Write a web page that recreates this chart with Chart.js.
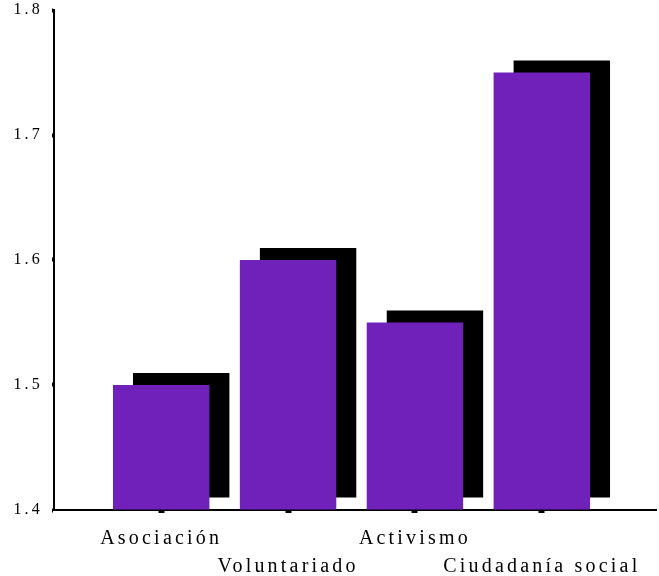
<!DOCTYPE html>
<html>
<head>
<meta charset="utf-8">
<script src="https://cdn.jsdelivr.net/npm/chart.js@4/dist/chart.umd.min.js"></script>
<style>
  html, body { margin: 0; padding: 0; background: #fff; }
  #wrap { width: 659px; height: 576px; position: relative; }
</style>
</head>
<body>
<div id="wrap"><canvas id="c" width="659" height="576"></canvas></div>
<script>
const categories = ['Asociación', 'Voluntariado', 'Activismo', 'Ciudadanía social'];
const values = [1.50, 1.60, 1.55, 1.75];
const yTicks = [1.4, 1.5, 1.6, 1.7, 1.8];

const points = categories.map((c, i) => ({ x: i, y: values[i] }));

const spacingPlugin = {
  id: 'spacing',
  beforeUpdate(chart) { chart.ctx.letterSpacing = '3.2px'; },
  beforeDraw(chart) { chart.ctx.letterSpacing = '3.2px'; }
};

const shadowPlugin = {
  id: 'barShadow',
  beforeDatasetDraw(chart) {
    const ctx = chart.ctx;
    ctx.save();
    ctx.shadowColor = '#000000';
    ctx.shadowOffsetX = 20;
    ctx.shadowOffsetY = -12;
    ctx.shadowBlur = 0;
  },
  afterDatasetDraw(chart) {
    chart.ctx.restore();
  }
};

new Chart(document.getElementById('c'), {
  type: 'bar',
  data: {
    datasets: [{
      data: points,
      base: yTicks[0],
      backgroundColor: '#7021b9',
      borderWidth: 0,
      barPercentage: 0.76,
      categoryPercentage: 1.0
    }]
  },
  options: {
    responsive: false,
    animation: false,
    events: [],
    layout: { padding: { top: 10, right: 3, left: 0, bottom: 0 } },
    plugins: { legend: { display: false }, tooltip: { enabled: false } },
    scales: {
      x: {
        type: 'linear',
        offset: false,
        min: -0.845,
        max: 3.9,
        afterBuildTicks(axis) { axis.ticks = categories.map((c, i) => ({ value: i })); },
        afterFit(axis) { axis.height = 66; },
        border: { display: true, color: '#000', width: 2 },
        grid: { offset: false, drawOnChartArea: false, drawTicks: true, tickLength: 3, tickWidth: 6, color: '#000' },
        ticks: {
          autoSkip: false,
          maxRotation: 0,
          padding: 12,
          color: '#000',
          font: { family: '"Liberation Serif", "Times New Roman", serif', size: 20, lineHeight: 1.4 },
          callback: (v) => (v % 2 === 0 ? [categories[v]] : ['', categories[v]])
        }
      },
      y: {
        min: 1.4,
        max: 1.8,
        afterBuildTicks(axis) { axis.ticks = yTicks.map(v => ({ value: v })); },
        afterFit(axis) { axis.width = 54; axis.paddingTop = 0; axis.paddingBottom = 0; },
        border: { display: true, color: '#000', width: 2 },
        grid: { drawOnChartArea: false, drawTicks: true, tickLength: 2, tickWidth: 4, color: '#000' },
        ticks: {
          padding: 9,
          color: '#000',
          font: { family: '"Liberation Serif", "Times New Roman", serif', size: 16 },
          callback: (v) => Number(v).toFixed(1)
        }
      }
    }
  },
  plugins: [spacingPlugin, shadowPlugin]
});
</script>
</body>
</html>
